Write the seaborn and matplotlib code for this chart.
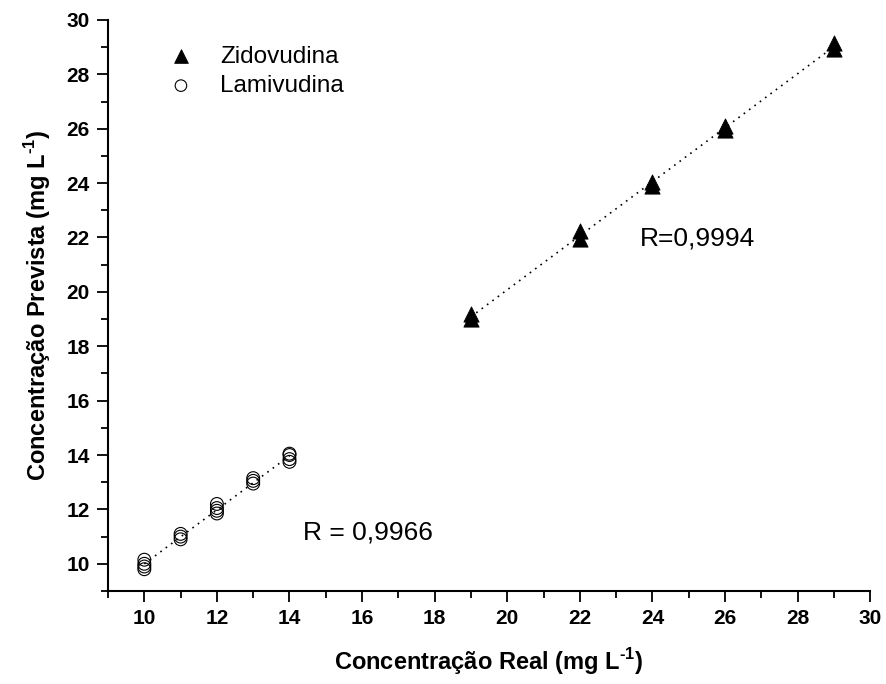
import numpy as np
import pandas as pd
import matplotlib
matplotlib.use("Agg")
import matplotlib.pyplot as plt
from matplotlib.ticker import MultipleLocator
import seaborn as sns

# ---- data ----
lam_real = [10, 10, 10, 10, 11, 11, 11, 12, 12, 12, 12, 13, 13, 13, 14, 14, 14, 14]
lam_prev = [9.8, 9.9, 10.0, 10.15, 10.9, 11.0, 11.1, 11.85, 11.95, 12.05, 12.2,
            12.95, 13.05, 13.15, 13.75, 13.85, 14.0, 14.05]
zid_real = [19, 19, 22, 22, 24, 24, 26, 26, 29, 29]
zid_prev = [19.0, 19.2, 21.95, 22.25, 23.9, 24.05, 25.95, 26.1, 28.95, 29.15]
series_names = ["Zidovudina", "Lamivudina"]
r_labels = ["R=0,9994", "R = 0,9966"]
x_label = "Concentração Real (mg L$^{\\text{-1}}$)"
y_label = "Concentração Prevista (mg L$^{\\text{-1}}$)"

sns.set_theme(style="ticks")
plt.rcParams["font.family"] = ["Liberation Sans", "DejaVu Sans"]
plt.rcParams["mathtext.fontset"] = "custom"
plt.rcParams["mathtext.rm"] = "Liberation Sans:bold"
plt.rcParams["mathtext.bf"] = "Liberation Sans:bold"
for k in ["text.color", "axes.labelcolor", "xtick.color", "ytick.color", "axes.edgecolor"]:
    plt.rcParams[k] = "black"

zid = pd.DataFrame({"real": zid_real, "prev": zid_prev})
lam = pd.DataFrame({"real": lam_real, "prev": lam_prev})

fig = plt.figure(figsize=(8.87, 6.84), dpi=100)
ax = fig.add_axes([0.1218, 0.136, 0.981 - 0.1218, 0.9708 - 0.136])

# regression lines (dotted)
sns.regplot(data=zid, x="real", y="prev", scatter=False, ci=None, ax=ax,
            line_kws=dict(color="black", linestyle=(0, (1, 3)), linewidth=1.2))
sns.regplot(data=lam, x="real", y="prev", scatter=False, ci=None, ax=ax,
            line_kws=dict(color="black", linestyle=(0, (1, 3)), linewidth=1.2))

sns.scatterplot(data=zid, x="real", y="prev", marker="^", s=120, color="black",
                edgecolor="black", linewidth=0.6, ax=ax, label=series_names[0], zorder=3)
sns.scatterplot(data=lam, x="real", y="prev", marker="o", s=85, facecolor="none",
                edgecolor="black", linewidth=0.8, ax=ax, label=series_names[1], zorder=3)

ax.set_xlim(9, 30)
ax.set_ylim(9, 30)
ax.xaxis.set_major_locator(MultipleLocator(2))
ax.xaxis.set_minor_locator(MultipleLocator(1))
ax.yaxis.set_major_locator(MultipleLocator(2))
ax.yaxis.set_minor_locator(MultipleLocator(1))
ax.set_xticks(np.arange(10, 31, 2))
ax.set_yticks(np.arange(10, 31, 2))

for s in ["top", "right"]:
    ax.spines[s].set_visible(False)
for s in ["left", "bottom"]:
    ax.spines[s].set_linewidth(1.5)
    ax.spines[s].set_color("black")

ax.tick_params(which="major", direction="out", length=8, width=1.3, colors="black",
               labelsize=15, pad=5)
ax.tick_params(which="minor", direction="out", length=5, width=1.3, colors="black")
for lab in ax.get_xticklabels() + ax.get_yticklabels():
    lab.set_fontweight("bold")

ax.set_xlabel(x_label, fontsize=17, fontweight="bold", labelpad=13)
ax.set_ylabel(y_label, fontsize=17, fontweight="bold", labelpad=10)

ax.text(23.66, 21.97, r_labels[0], fontsize=19, ha="left", va="center")
ax.text(14.37, 11.14, r_labels[1], fontsize=19, ha="left", va="center")

leg = ax.legend(loc="upper left", bbox_to_anchor=(0.051, 0.972), frameon=False,
                fontsize=17.5, handletextpad=0.6, labelspacing=0.3, borderaxespad=0,
                markerscale=0.9)

fig.savefig("out.png", dpi=100)
